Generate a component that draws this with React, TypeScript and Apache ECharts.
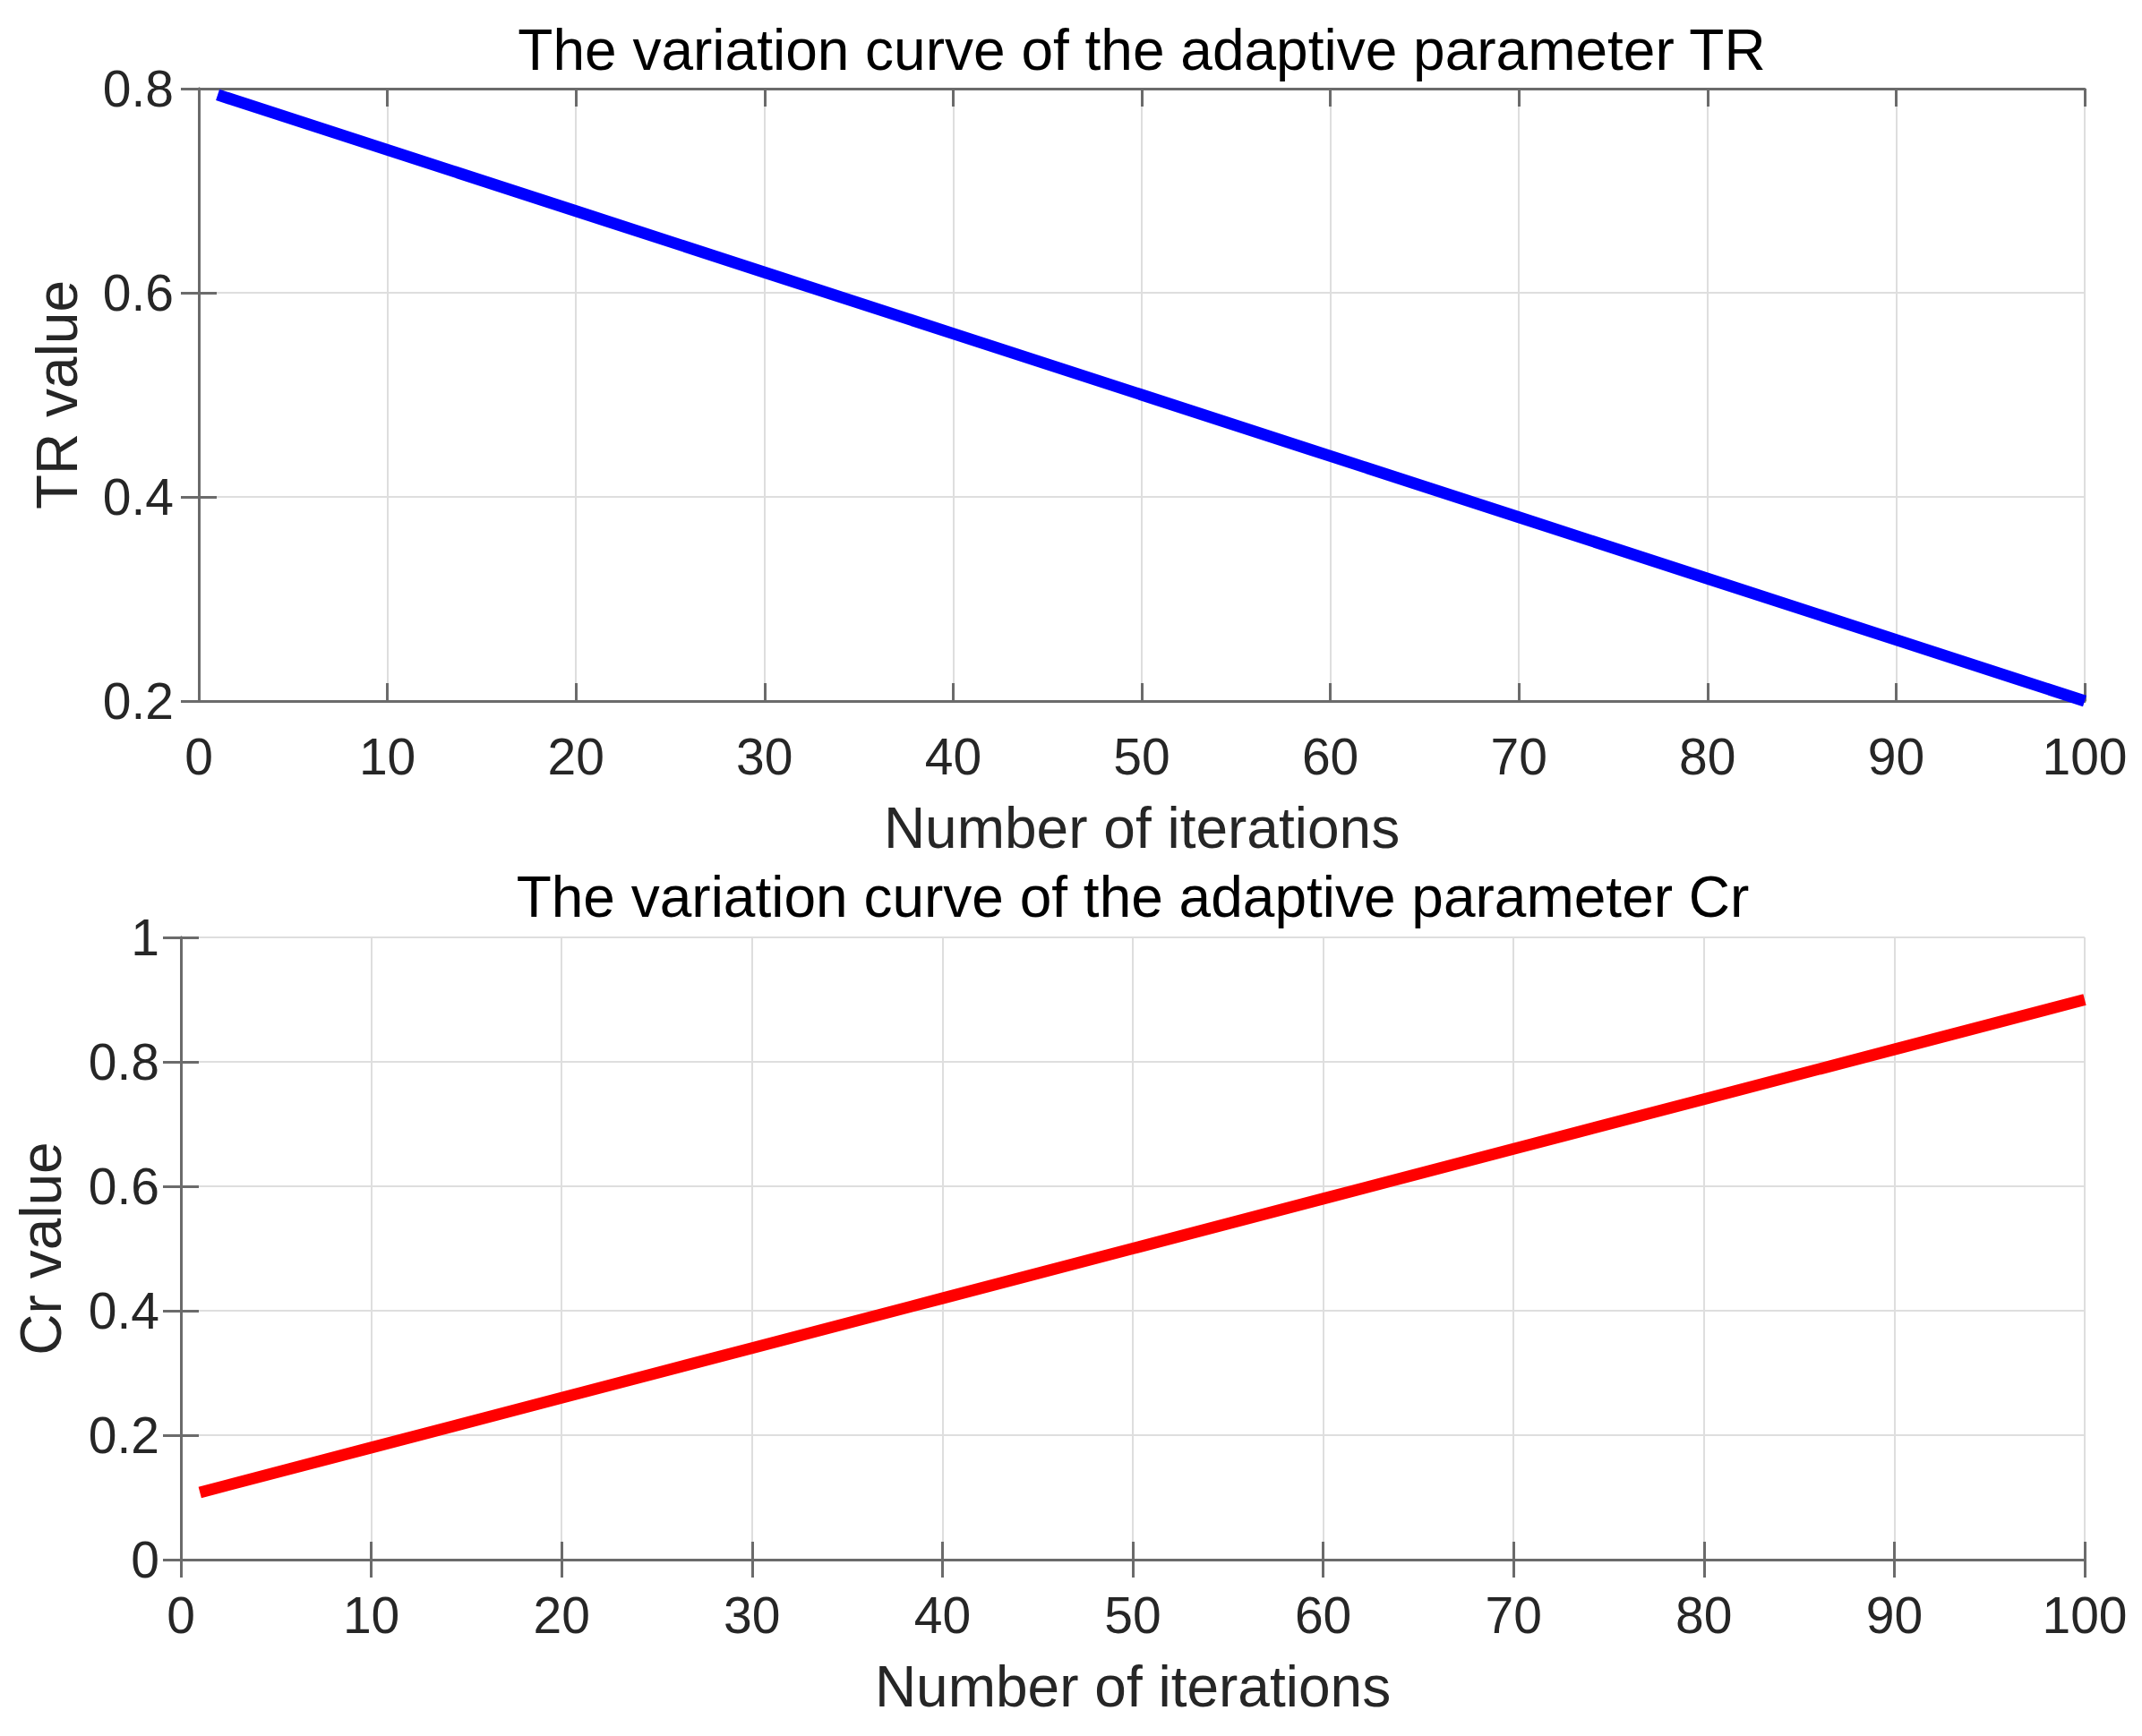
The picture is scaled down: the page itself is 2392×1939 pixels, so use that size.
import React, { useEffect, useRef } from "react";
import * as echarts from "echarts";

const iterations = [1, 10, 20, 30, 40, 50, 60, 70, 80, 90, 100];
const trValues = [0.794, 0.74, 0.68, 0.62, 0.56, 0.5, 0.44, 0.38, 0.32, 0.26, 0.2];
const crValues = [0.108, 0.18, 0.26, 0.34, 0.42, 0.5, 0.58, 0.66, 0.74, 0.82, 0.9];
const titles = [
  "The variation curve of the adaptive parameter TR",
  "The variation curve of the adaptive parameter Cr",
];
const yNames = ["TR value", "Cr value"];
const xName = "Number of iterations";

const FONT = "'Liberation Sans', Arial, sans-serif";
const TICK_FS = 57;
const NAME_FS = 64;
const AXIS_COLOR = "#6b6b6b";
const TEXT_COLOR = "#262626";

const grids = [
  { left: 222, top: 99, width: 2106, height: 684 },
  { left: 202, top: 1047, width: 2126, height: 695 },
];

const fmt = (v: number) => String(Math.round(v * 10) / 10);

export default function App() {
  const ref = useRef<HTMLDivElement>(null);
  useEffect(() => {
    if (!ref.current) return;
    const chart = echarts.init(ref.current, undefined, { renderer: "svg" });
    const yRanges = [
      { min: 0.2, max: 0.8 },
      { min: 0, max: 1 },
    ];
    const xAxes: any[] = [];
    const yAxes: any[] = [];
    grids.forEach((g, i) => {
      xAxes.push({
        type: "value",
        gridIndex: i,
        min: 0,
        max: 100,
        interval: 10,
        position: "bottom",
        name: xName,
        nameLocation: "middle",
        nameGap: 110,
        nameTextStyle: { fontFamily: FONT, fontSize: NAME_FS, color: TEXT_COLOR },
        axisLine: { show: true, lineStyle: { color: AXIS_COLOR, width: 3 } },
        axisTick: { show: true, inside: true, length: 20, lineStyle: { color: AXIS_COLOR, width: 3 } },
        axisLabel: { fontFamily: FONT, fontSize: TICK_FS, color: TEXT_COLOR, margin: 33 },
        splitLine: { show: true, lineStyle: { color: "#dedede", width: 2 } },
      });
      xAxes.push({
        type: "value",
        gridIndex: i,
        min: 0,
        max: 100,
        interval: 10,
        position: "top",
        axisLine: { show: true, lineStyle: { color: AXIS_COLOR, width: 3 } },
        axisTick: { show: true, inside: true, length: 20, lineStyle: { color: AXIS_COLOR, width: 3 } },
        axisLabel: { show: false },
        splitLine: { show: false },
      });
      yAxes.push({
        type: "value",
        gridIndex: i,
        min: yRanges[i].min,
        max: yRanges[i].max,
        interval: 0.2,
        position: "left",
        name: yNames[i],
        nameLocation: "middle",
        nameGap: i === 0 ? 126 : 124,
        nameRotate: 90,
        nameTextStyle: { fontFamily: FONT, fontSize: NAME_FS, color: TEXT_COLOR },
        axisLine: { show: true, lineStyle: { color: AXIS_COLOR, width: 3 } },
        axisTick: { show: true, inside: true, length: 20, lineStyle: { color: AXIS_COLOR, width: 3 } },
        axisLabel: { fontFamily: FONT, fontSize: TICK_FS, color: TEXT_COLOR, margin: i === 0 ? 28 : 24, formatter: fmt },
        splitLine: { show: true, lineStyle: { color: "#dedede", width: 2 } },
      });
      yAxes.push({
        type: "value",
        gridIndex: i,
        min: yRanges[i].min,
        max: yRanges[i].max,
        interval: 0.2,
        position: "right",
        axisLine: { show: true, lineStyle: { color: AXIS_COLOR, width: 3 } },
        axisTick: { show: true, inside: true, length: 20, lineStyle: { color: AXIS_COLOR, width: 3 } },
        axisLabel: { show: false },
        splitLine: { show: false },
      });
    });

    chart.setOption({
      animation: false,
      backgroundColor: "#ffffff",
      grid: grids.map((g) => ({ ...g, containLabel: false })),
      xAxis: xAxes,
      yAxis: yAxes,
      graphic: titles.map((t, i) => ({
        type: "text",
        x: grids[i].left + grids[i].width / 2,
        y: i === 0 ? 56 : 1002,
        style: {
          text: t,
          fontFamily: FONT,
          fontSize: NAME_FS,
          fill: "#000000",
          textAlign: "center",
          textVerticalAlign: "middle",
        },
      })),
      series: [
        {
          type: "line",
          xAxisIndex: 0,
          yAxisIndex: 0,
          data: iterations.map((x, k) => [x, trValues[k]]),
          showSymbol: false,
          lineStyle: { color: "#0000ff", width: 13 },
          z: 5,
        },
        {
          type: "line",
          xAxisIndex: 2,
          yAxisIndex: 2,
          data: iterations.map((x, k) => [x, crValues[k]]),
          showSymbol: false,
          lineStyle: { color: "#ff0000", width: 13 },
          z: 5,
        },
      ],
    });
    return () => chart.dispose();
  }, []);
  return (
    <div
      ref={ref}
      style={{ position: "absolute", left: 0, top: 0, width: 2392, height: 1939, background: "#fff" }}
    />
  );
}
